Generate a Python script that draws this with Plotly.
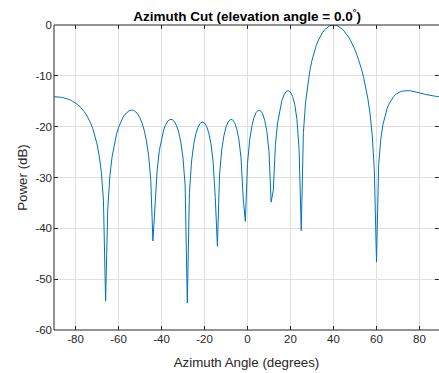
import plotly.graph_objects as go

# Azimuth cut of the array response, one sample per degree
azimuth_deg = list(range(-90, 91))

power_db = [
    -14.12, -14.12, -14.15, -14.20, -14.27, -14.37, -14.49, -14.64, -14.83, -15.06,   # -90 .. -81
    -15.33, -15.64, -16.03, -16.47, -17.00, -17.61, -18.36, -19.26, -20.34, -21.69,   # -80 .. -71
    -23.39, -25.66, -28.90, -34.45, -54.32, -36.16, -29.61, -25.97, -23.48, -21.62,   # -70 .. -61
    -20.19, -19.08, -18.22, -17.57, -17.10, -16.84, -16.73, -16.81, -17.08, -17.57,   # -60 .. -51
    -18.31, -19.34, -20.77, -22.77, -25.64, -30.40, -42.50, -36.29, -28.51, -24.68,   # -50 .. -41
    -22.28, -20.66, -19.55, -18.88, -18.56, -18.60, -19.01, -19.79, -21.09, -23.07,   # -40 .. -31
    -26.14, -31.65, -54.72, -32.91, -26.75, -23.45, -21.39, -20.08, -19.35, -19.08,   # -30 .. -21
    -19.28, -19.97, -21.25, -23.36, -26.85, -33.92, -43.52, -29.52, -24.63, -21.82,   # -20 .. -11
    -20.09, -19.07, -18.59, -18.63, -19.21, -20.44, -22.55, -26.19, -34.10, -38.63,   # -10 .. -1
    -27.24,                                                                           # 0
    -22.65, -19.96, -18.25, -17.23, -16.77, -16.84, -17.43, -18.73, -20.91, -24.95,   # 1 .. 10
    -34.84, -32.50, -23.49, -19.26, -16.61, -14.85, -13.72, -13.07, -12.91, -13.20,   # 11 .. 20
    -14.06, -15.69, -18.58, -24.50, -40.44, -21.15, -15.24, -11.59, -8.95, -6.93,     # 21 .. 30
    -5.33, -4.02, -2.97, -2.09, -1.42, -0.88, -0.49, -0.21, -0.05, 0.00,              # 31 .. 40
    -0.05, -0.20, -0.44, -0.78, -1.22, -1.74, -2.37, -3.10, -3.94, -4.90,             # 41 .. 50
    -5.99, -7.22, -8.64, -10.28, -12.22, -14.53, -17.49, -21.59, -28.59, -46.64,      # 51 .. 60
    -27.49, -22.42, -19.57, -17.69, -16.35, -15.36, -14.62, -14.07, -13.65, -13.35,   # 61 .. 70
    -13.14, -13.00, -12.92, -12.90, -12.91, -12.95, -13.03, -13.12, -13.22, -13.33,   # 71 .. 80
    -13.45, -13.56, -13.68, -13.78, -13.88, -13.96, -14.02, -14.07, -14.10, -14.11,   # 81 .. 90
]

x_tick_vals = [-80, -60, -40, -20, 0, 20, 40, 60, 80]
y_tick_vals = [0, -10, -20, -30, -40, -50, -60]

AXIS_COLOR = "#262626"
GRID_COLOR = "#dfdfdf"
LINE_COLOR = "#0072BD"
FONT = "Liberation Sans, Arial, Helvetica, sans-serif"

fig = go.Figure(
    go.Scatter(
        x=azimuth_deg,
        y=power_db,
        mode="lines",
        line=dict(color=LINE_COLOR, width=1),
        hoverinfo="skip",
        showlegend=False,
    )
)

common_axis = dict(
    ticks="inside",
    ticklen=4,
    tickwidth=1,
    tickcolor=AXIS_COLOR,
    showgrid=True,
    gridcolor=GRID_COLOR,
    gridwidth=1,
    zeroline=False,
    showline=False,
    mirror="ticks",
    tickfont=dict(family=FONT, size=11.5, color=AXIS_COLOR),
)

fig.update_layout(
    width=439,
    height=373,
    margin=dict(l=54, r=0, t=25, b=43),
    paper_bgcolor="white",
    plot_bgcolor="white",
    font=dict(family=FONT, color=AXIS_COLOR),
    title=dict(
        text="<b>Azimuth Cut (elevation angle = 0.0<sup>°</sup>)</b>",
        x=0.563,
        xanchor="center",
        y=0.956,
        yanchor="middle",
        font=dict(family=FONT, size=13.5, color="black"),
    ),
    xaxis=dict(
        common_axis,
        range=[-90, 89.07],
        tickvals=x_tick_vals,
        ticktext=[str(v) for v in x_tick_vals],
        title=dict(text="Azimuth Angle (degrees)", standoff=14,
                   font=dict(family=FONT, size=13.3, color=AXIS_COLOR)),
    ),
    yaxis=dict(
        common_axis,
        range=[-60, 0],
        tickvals=y_tick_vals,
        ticktext=[str(v) for v in y_tick_vals],
        ticklabelstandoff=1,
        title=dict(text="Power (dB)", standoff=4,
                   font=dict(family=FONT, size=13.3, color=AXIS_COLOR)),
    ),
    shapes=[
        # axes box: left, bottom and top edges
        dict(type="line", xref="paper", yref="paper", x0=0, x1=0, y0=0, y1=1,
             line=dict(color=AXIS_COLOR, width=1)),
        dict(type="line", xref="paper", yref="paper", x0=0, x1=1, y0=0, y1=0,
             line=dict(color=AXIS_COLOR, width=1)),
        dict(type="line", xref="paper", yref="paper", x0=0, x1=1, y0=1, y1=1,
             line=dict(color=AXIS_COLOR, width=1)),
    ],
)

fig.write_html("out.html")
